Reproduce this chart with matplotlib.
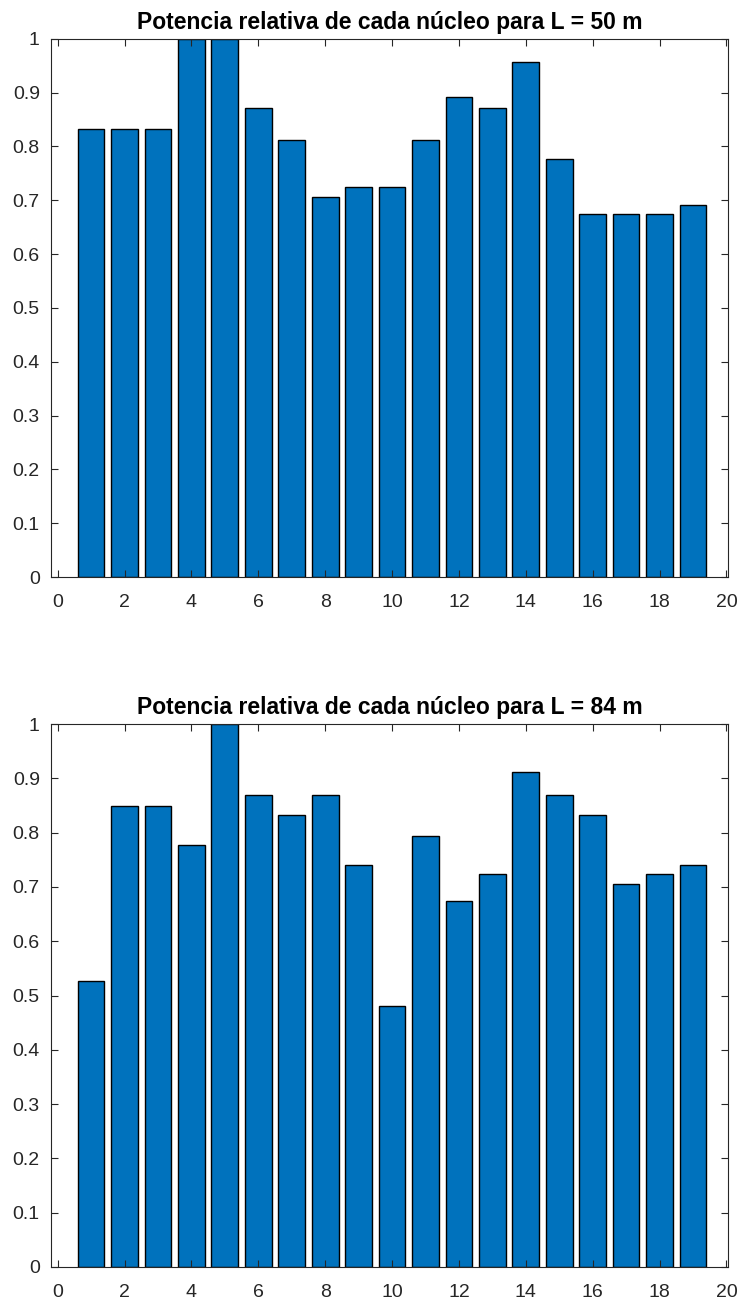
import matplotlib.pyplot as plt

nucleos = list(range(1, 20))
pot_50 = [0.833, 0.833, 0.833, 1.0, 1.0, 0.871, 0.8125, 0.706, 0.724, 0.724,
          0.8125, 0.892, 0.871, 0.956, 0.7775, 0.674, 0.674, 0.674, 0.692]
pot_84 = [0.526, 0.849, 0.849, 0.777, 1.0, 0.870, 0.833, 0.870, 0.741, 0.480,
          0.794, 0.674, 0.724, 0.912, 0.870, 0.833, 0.706, 0.724, 0.741]
titulos = ['Potencia relativa de cada núcleo para L = 50 m',
           'Potencia relativa de cada núcleo para L = 84 m']

plt.rcParams['font.family'] = ['Liberation Sans', 'DejaVu Sans']

fig = plt.figure(figsize=(7.4, 13.02), dpi=100)
ax1 = fig.add_axes([0.0689, 0.5568, 0.915, 0.4134])
ax2 = fig.add_axes([0.0689, 0.0269, 0.915, 0.4170])

for ax, datos, titulo in zip([ax1, ax2], [pot_50, pot_84], titulos):
    ax.bar(nucleos, datos, width=0.8, color='#0072BD', edgecolor='black', linewidth=1.0)
    ax.set_xlim(-0.2, 20.05)
    ax.set_ylim(0, 1)
    ax.set_xticks(range(0, 21, 2))
    ax.set_yticks([i / 10 for i in range(11)])
    ax.set_yticklabels(['0'] + ['%.1f' % (i / 10) for i in range(1, 10)] + ['1'])
    ax.tick_params(direction='in', top=True, right=True, length=5, width=0.8,
                   labelsize=14, colors='#262626', labelcolor='#262626')
    ax.tick_params(axis='x', pad=12)
    ax.tick_params(axis='y', pad=8)
    for s in ax.spines.values():
        s.set_color('#262626')
        s.set_linewidth(0.8)
    ax.set_title(titulo, fontsize=16.5, fontweight='bold', pad=7)

fig.savefig('out.png', dpi=100)
